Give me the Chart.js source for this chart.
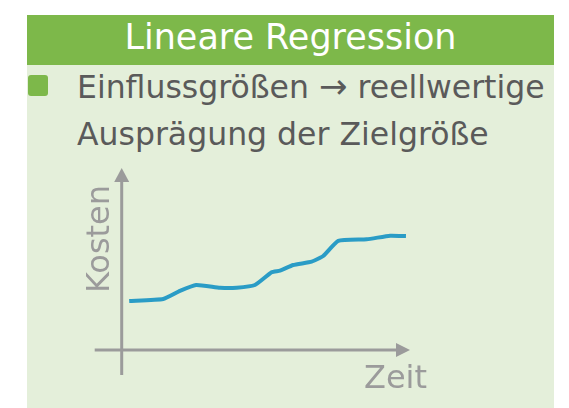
<!DOCTYPE html>
<html>
<head>
<meta charset="utf-8">
<script src="https://cdn.jsdelivr.net/npm/chart.js@4/dist/chart.umd.min.js"></script>
<style>
  html, body { margin: 0; padding: 0; background: #ffffff; }
  body { width: 569px; height: 408px; position: relative; overflow: hidden; font-family: "DejaVu Sans", sans-serif; }
  .card { position: absolute; left: 27px; top: 15px; width: 527px; height: 393px; background: #e4efda; }
  .head { position: absolute; left: 27px; top: 15px; width: 527px; height: 50px; background: #7db84a;
          color: #ffffff; font-size: 35px; line-height: 45px; text-align: center; }
  .bullet { position: absolute; left: 28px; top: 75px; width: 20px; height: 21px; border-radius: 3px; background: #7db84a; }
  .text { position: absolute; left: 77px; top: 63px; font-size: 31.5px; line-height: 47px; color: #5a5a5a; white-space: nowrap; }
  .arrow { font-size: 34px; }
  canvas { position: absolute; left: 0; top: 0; }
</style>
</head>
<body>
<div class="card"></div>
<div class="head">Lineare Regression</div>
<div class="bullet"></div>
<div class="text">Einflussgrößen <span class="arrow">→</span> reellwertige<br>Ausprägung der Zielgröße</div>
<canvas id="chart" width="569" height="408"></canvas>
<script>
const timeValues = [2.6, 14.4, 20.2, 25.8, 34.1, 39.9, 46.2, 52.0, 54.9, 59.5, 65.9, 69.9, 75.1, 85.0, 93.1, 98.6];
const costValues = [27.2, 28.3, 32.8, 36.1, 34.6, 34.6, 36.1, 43.2, 44.1, 47.2, 49.1, 52.2, 60.6, 61.5, 63.5, 63.3];
const yAxisLabel = 'Kosten';
const xAxisLabel = 'Zeit';

const axisColor = '#9b9b9b';

// draws the two arrow axes and their labels
const arrowAxes = {
  id: 'arrowAxes',
  beforeDatasetsDraw(chart) {
    const ctx = chart.ctx;
    const xs = chart.scales.x, ys = chart.scales.y;
    const x0 = xs.getPixelForValue(0), y0 = ys.getPixelForValue(0);
    const xEnd = xs.getPixelForValue(100), yEnd = ys.getPixelForValue(100);
    ctx.save();
    ctx.strokeStyle = axisColor;
    ctx.fillStyle = axisColor;
    ctx.lineWidth = 3;
    // y axis
    ctx.beginPath();
    ctx.moveTo(x0, y0 + 25);
    ctx.lineTo(x0, yEnd + 10);
    ctx.stroke();
    ctx.beginPath();
    ctx.moveTo(x0, yEnd - 2);
    ctx.lineTo(x0 - 7.5, yEnd + 12);
    ctx.lineTo(x0 + 7.5, yEnd + 12);
    ctx.closePath();
    ctx.fill();
    // x axis
    ctx.beginPath();
    ctx.moveTo(x0 - 27, y0);
    ctx.lineTo(xEnd - 10, y0);
    ctx.stroke();
    ctx.beginPath();
    ctx.moveTo(xEnd, y0);
    ctx.lineTo(xEnd - 14, y0 - 7);
    ctx.lineTo(xEnd - 14, y0 + 7);
    ctx.closePath();
    ctx.fill();
    // labels
    ctx.font = '32px "DejaVu Sans", sans-serif';
    ctx.textBaseline = 'alphabetic';
    ctx.textAlign = 'right';
    ctx.fillText(xAxisLabel, xEnd + 17, y0 + 38);
    ctx.translate(x0 - 13, (y0 + yEnd) / 2 - 21);
    ctx.rotate(-Math.PI / 2);
    ctx.textAlign = 'center';
    ctx.fillText(yAxisLabel, 0, 0);
    ctx.restore();
  }
};

const ctx = document.getElementById('chart').getContext('2d');
new Chart(ctx, {
  type: 'line',
  data: {
    datasets: [{
      data: timeValues.map((t, i) => ({ x: t, y: costValues[i] })),
      borderColor: '#2a9cc6',
      borderWidth: 4,
      pointRadius: 0,
      tension: 0.15,
      fill: false
    }]
  },
  options: {
    responsive: false,
    animation: false,
    layout: { padding: { left: 121.7, right: 159, top: 170, bottom: 58 } },
    scales: {
      x: { type: 'linear', min: 0, max: 100, display: false },
      y: { min: 0, max: 100, display: false }
    },
    plugins: { legend: { display: false }, tooltip: { enabled: false }, title: { display: false } }
  },
  plugins: [arrowAxes]
});
</script>
</body>
</html>
